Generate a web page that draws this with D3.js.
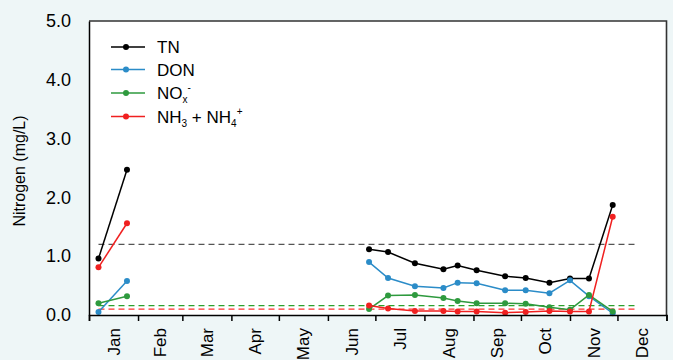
<!DOCTYPE html>
<html>
<head>
<meta charset="utf-8">
<script src="https://cdn.jsdelivr.net/npm/d3@7"></script>
<style>
  html, body { margin: 0; padding: 0; background: #eef6f7; }
  svg { display: block; font-family: "Liberation Sans", Arial, sans-serif; }
</style>
</head>
<body>
<svg id="chart" width="673" height="360"></svg>
<script>
// Sampling dates (two campaigns)
const sampleDates = [
  "2021-01-07", "2021-01-25",
  "2021-06-27", "2021-07-09", "2021-07-26", "2021-08-13", "2021-08-22",
  "2021-09-03", "2021-09-21", "2021-10-04", "2021-10-19", "2021-11-01",
  "2021-11-13", "2021-11-28"
];
// Campaign index for each sample, so the lines break between campaigns
const campaign = [0, 0, 1, 1, 1, 1, 1, 1, 1, 1, 1, 1, 1, 1];

// Concentrations, mg/L
const tn   = [0.96, 2.47, 1.12, 1.07, 0.88, 0.78, 0.84, 0.76, 0.66, 0.63, 0.55, 0.62, 0.62, 1.87];
const don  = [0.05, 0.58, 0.90, 0.63, 0.49, 0.46, 0.55, 0.54, 0.42, 0.42, 0.37, 0.59, 0.32, 0.03];
const nox  = [0.20, 0.32, 0.10, 0.33, 0.34, 0.29, 0.24, 0.20, 0.20, 0.19, 0.13, 0.09, 0.34, 0.06];
const nhx  = [0.81, 1.56, 0.16, 0.11, 0.07, 0.07, 0.06, 0.06, 0.04, 0.05, 0.07, 0.06, 0.06, 1.67];

// Reference levels (dashed lines)
const refValues = [1.2, 0.16, 0.10];
const refColors = ["#555555", "#2ca02c", "#ff3030"];
const refSpan = ["2021-01-07", "2021-12-13"];

const yTicks = [0, 1, 2, 3, 4, 5];
const monthLabels = ["Jan", "Feb", "Mar", "Apr", "May", "Jun", "Jul", "Aug", "Sep", "Oct", "Nov", "Dec"];

const parse = d3.timeParse("%Y-%m-%d");
const dates = sampleDates.map(parse);

const series = [
  { key: "TN",  values: tn,  color: "#000000" },
  { key: "DON", values: don, color: "#2b8cc8" },
  { key: "NOX", values: nox, color: "#2e9a3e" },
  { key: "NH",  values: nhx, color: "#f02020" }
];

const svg = d3.select("#chart");
const m = { left: 89, right: 6.5, top: 21, bottom: 45 };
const W = 673, H = 360;

const x = d3.scaleTime()
  .domain([new Date(2021, 0, 1), new Date(2022, 0, 1)])
  .range([m.left, W - m.right]);
const y = d3.scaleLinear()
  .domain([0, 5])
  .range([H - m.bottom, m.top]);

// plot area
svg.append("rect")
  .attr("x", m.left).attr("y", m.top)
  .attr("width", W - m.right - m.left).attr("height", H - m.bottom - m.top)
  .attr("fill", "#ffffff");

// reference lines
const rx0 = x(parse(refSpan[0])), rx1 = x(parse(refSpan[1]));
refValues.forEach((v, i) => {
  svg.append("line")
    .attr("x1", rx0).attr("x2", rx1)
    .attr("y1", y(v)).attr("y2", y(v))
    .attr("stroke", refColors[i])
    .attr("stroke-width", 1.3)
    .attr("stroke-dasharray", "6,4");
});

// series lines and markers
const line = d3.line()
  .defined((d, i) => true)
  .x(d => x(d.date))
  .y(d => y(d.v));

series.forEach(s => {
  const pts = dates.map((d, i) => ({ date: d, v: s.values[i], c: campaign[i] }));
  d3.groups(pts, p => p.c).forEach(([, grp]) => {
    svg.append("path")
      .datum(grp)
      .attr("d", line)
      .attr("fill", "none")
      .attr("stroke", s.color)
      .attr("stroke-width", 1.5);
  });
  svg.append("g").selectAll("circle")
    .data(pts)
    .join("circle")
    .attr("cx", d => x(d.date))
    .attr("cy", d => y(d.v))
    .attr("r", 3)
    .attr("fill", s.color);
});

// frame: top and right
svg.append("path")
  .attr("d", `M${m.left},${m.top}H${W - m.right}V${H - m.bottom}`)
  .attr("fill", "none")
  .attr("stroke", "#333")
  .attr("stroke-width", 1.6);

// x axis: ticks at month boundaries, labels at mid-month
const xAxis = d3.axisBottom(x)
  .ticks(d3.timeMonth.every(1))
  .tickSize(6)
  .tickFormat("");
const gx = svg.append("g")
  .attr("transform", `translate(0,${H - m.bottom})`)
  .call(xAxis);
gx.select(".domain").attr("stroke", "#000").attr("stroke-width", 1.5);
gx.selectAll(".tick line").attr("stroke", "#000").attr("stroke-width", 1.5);

monthLabels.forEach((lab, i) => {
  const a = new Date(2021, i, 1), b = new Date(2021, i + 1, 1);
  const cx = (x(a) + x(b)) / 2;
  svg.append("text")
    .attr("transform", `translate(${cx + 6},${H - m.bottom + 13}) rotate(-90)`)
    .attr("text-anchor", "end")
    .attr("font-size", 17)
    .attr("fill", "#000")
    .text(lab);
});

// y axis
const yAxis = d3.axisLeft(y)
  .tickValues(yTicks)
  .tickSize(0)
  .tickPadding(18)
  .tickFormat(d3.format(".1f"));
const gy = svg.append("g")
  .attr("transform", `translate(${m.left},0)`)
  .call(yAxis);
gy.select(".domain").attr("stroke", "#000").attr("stroke-width", 1.5);
gy.selectAll(".tick text")
  .attr("font-size", 18)
  .attr("font-family", "Liberation Sans, Arial, sans-serif")
  .attr("fill", "#000");

// y axis title
svg.append("text")
  .attr("transform", `translate(25,${(m.top + H - m.bottom) / 2 + 3}) rotate(-90)`)
  .attr("text-anchor", "middle")
  .attr("font-size", 16)
  .attr("fill", "#000")
  .text("Nitrogen (mg/L)");

// legend
const legend = svg.append("g");
const legRows = [47, 69.5, 93, 116.5];
series.forEach((s, i) => {
  const ly = legRows[i];
  legend.append("line")
    .attr("x1", 111).attr("x2", 145)
    .attr("y1", ly).attr("y2", ly)
    .attr("stroke", s.color).attr("stroke-width", 1.5);
  legend.append("circle")
    .attr("cx", 126).attr("cy", ly).attr("r", 3)
    .attr("fill", s.color);
});
function legText(i, parts) {
  const t = legend.append("text")
    .attr("x", 157).attr("y", legRows[i] + 6)
    .attr("font-size", 17)
    .attr("fill", "#000");
  parts.forEach(p => {
    const ts = t.append("tspan").text(p.t);
    if (p.sub) ts.attr("font-size", 10).attr("dy", 4);
    if (p.sup) ts.attr("font-size", 10).attr("dy", p.dy);
    if (p.back) ts.attr("dy", p.back);
  });
}
legText(0, [{ t: "TN" }]);
legText(1, [{ t: "DON" }]);
legText(2, [{ t: "NO" }, { t: "x", sub: true }, { t: "-", sup: true, dy: -12 }]);
legText(3, [{ t: "NH" }, { t: "3", sub: true }, { t: " + NH", back: -4 }, { t: "4", sub: true }, { t: "+", sup: true, dy: -12 }]);
</script>
</body>
</html>
